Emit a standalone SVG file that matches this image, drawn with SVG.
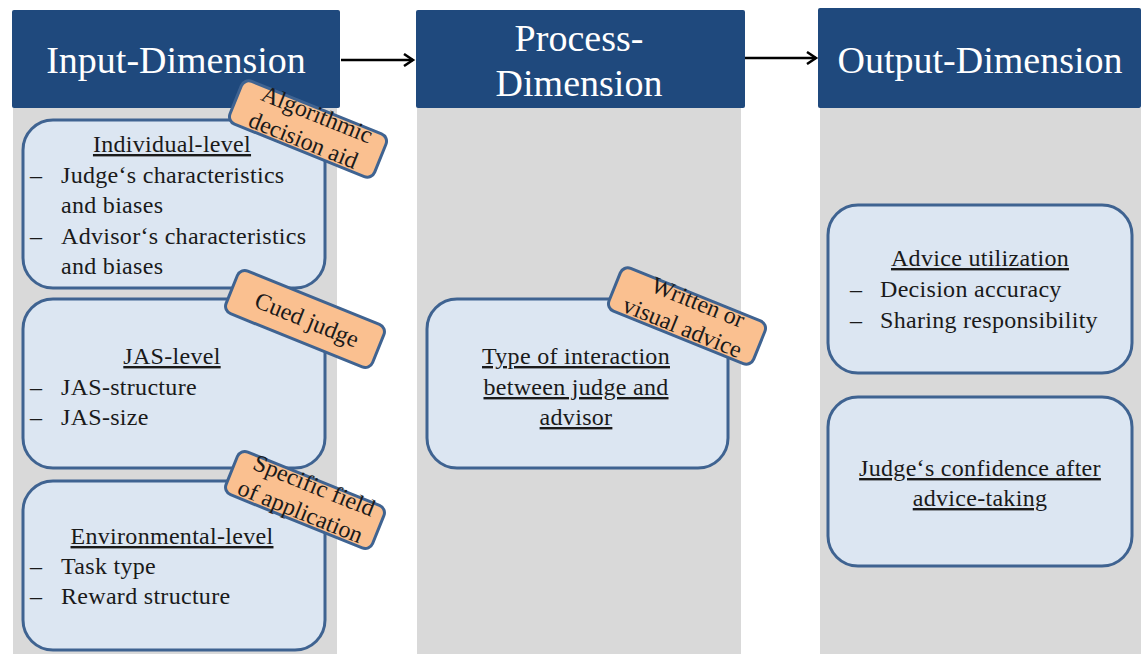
<svg xmlns="http://www.w3.org/2000/svg" width="1141" height="654" viewBox="0 0 1141 654">
<defs>
<style>
.col{fill:#d9d9d9}
.hdr{fill:#1f497d}
.ht{font-family:"Liberation Serif",serif;font-size:38px;fill:#fff;text-anchor:middle}
.box{fill:#dce6f2;stroke:#3f6391;stroke-width:3}
.tag{fill:#fac090;stroke:#3f6391;stroke-width:3}
.t{font-family:"Liberation Serif",serif;font-size:24px;letter-spacing:0.3px;fill:#1a1a1a}
.c{text-anchor:middle}
.u{text-decoration:underline}
.tt{font-family:"Liberation Serif",serif;font-size:24px;fill:#1a1a1a;text-anchor:middle}
.conn{stroke:#000;stroke-width:2.5;fill:none}
</style>
<marker id="arr" markerWidth="14" markerHeight="14" refX="11" refY="7" orient="auto" markerUnits="userSpaceOnUse">
<path d="M2,1 L11,7 L2,13" fill="none" stroke="#000" stroke-width="2.5"/>
</marker>
</defs>
<rect width="1141" height="654" fill="#fff"/>
<g id="columns">
<rect class="col" x="13" y="108" width="324" height="546"/>
<rect class="col" x="417" y="108" width="324" height="546"/>
<rect class="col" x="820" y="108" width="321" height="546"/>
</g>
<g id="input-header">
<rect class="hdr" x="12" y="10" width="328" height="98" rx="2"/>
<text class="ht" x="176" y="73">Input-Dimension</text>
</g>
<g id="process-header">
<rect class="hdr" x="416" y="10" width="329" height="98" rx="2"/>
<text class="ht" x="579" y="51">Process-</text>
<text class="ht" x="579" y="96">Dimension</text>
</g>
<g id="output-header">
<rect class="hdr" x="818" y="8" width="323" height="100" rx="2"/>
<text class="ht" x="980" y="73">Output-Dimension</text>
</g>
<g id="connectors">
<line class="conn" x1="341" y1="60" x2="413" y2="60" marker-end="url(#arr)"/>
<line class="conn" x1="745" y1="58" x2="816" y2="58" marker-end="url(#arr)"/>
</g>
<g id="individual-level">
<rect class="box" x="23" y="120" width="302" height="168" rx="30"/>
<text class="t c u" x="172" y="152">Individual-level</text>
<text class="t" x="30" y="183">–</text><text class="t" x="61" y="183">Judge‘s characteristics</text>
<text class="t" x="61" y="213">and biases</text>
<text class="t" x="30" y="244">–</text><text class="t" x="61" y="244">Advisor‘s characteristics</text>
<text class="t" x="61" y="274">and biases</text>
</g>
<g id="jas-level">
<rect class="box" x="23" y="299" width="302" height="169" rx="30"/>
<text class="t c u" x="172" y="364">JAS-level</text>
<text class="t" x="30" y="395">–</text><text class="t" x="61" y="395">JAS-structure</text>
<text class="t" x="30" y="425">–</text><text class="t" x="61" y="425">JAS-size</text>
</g>
<g id="environmental-level">
<rect class="box" x="23" y="481" width="302" height="169" rx="30"/>
<text class="t c u" x="172" y="544">Environmental-level</text>
<text class="t" x="30" y="574">–</text><text class="t" x="61" y="574">Task type</text>
<text class="t" x="30" y="604">–</text><text class="t" x="61" y="604">Reward structure</text>
</g>
<g id="interaction">
<rect class="box" x="427" y="299" width="301" height="169" rx="30"/>
<text class="t c u" x="576" y="364">Type of interaction</text>
<text class="t c u" x="576" y="395">between judge and</text>
<text class="t c u" x="576" y="425">advisor</text>
</g>
<g id="advice-utilization">
<rect class="box" x="828" y="205" width="304" height="168" rx="30"/>
<text class="t c u" x="980" y="266">Advice utilization</text>
<text class="t" x="850" y="297">–</text><text class="t" x="880" y="297">Decision accuracy</text>
<text class="t" x="850" y="328">–</text><text class="t" x="880" y="328">Sharing responsibility</text>
</g>
<g id="confidence">
<rect class="box" x="828" y="397" width="304" height="169" rx="30"/>
<text class="t c u" x="980" y="476">Judge‘s confidence after</text>
<text class="t c u" x="980" y="506">advice-taking</text>
</g>
<g id="tag-algorithmic" transform="translate(308,129) rotate(22)">
<rect class="tag" x="-78" y="-23" width="156" height="46" rx="8"/>
<text class="tt" x="3" y="-9">Algorithmic</text>
<text class="tt" x="0" y="20">decision aid</text>
</g>
<g id="tag-cued" transform="translate(305,319) rotate(22)">
<rect class="tag" x="-79" y="-23" width="158" height="46" rx="8"/>
<text class="tt" x="2" y="8">Cued judge</text>
</g>
<g id="tag-field" transform="translate(305,500) rotate(22)">
<rect class="tag" x="-79" y="-23" width="158" height="46" rx="8"/>
<text class="tt" x="3" y="-9">Specific field</text>
<text class="tt" x="0" y="20">of application</text>
</g>
<g id="tag-written" transform="translate(687,316) rotate(22)">
<rect class="tag" x="-78" y="-23" width="156" height="46" rx="8"/>
<text class="tt" x="5" y="-9">Written or</text>
<text class="tt" x="0" y="20">visual advice</text>
</g>
</svg>
